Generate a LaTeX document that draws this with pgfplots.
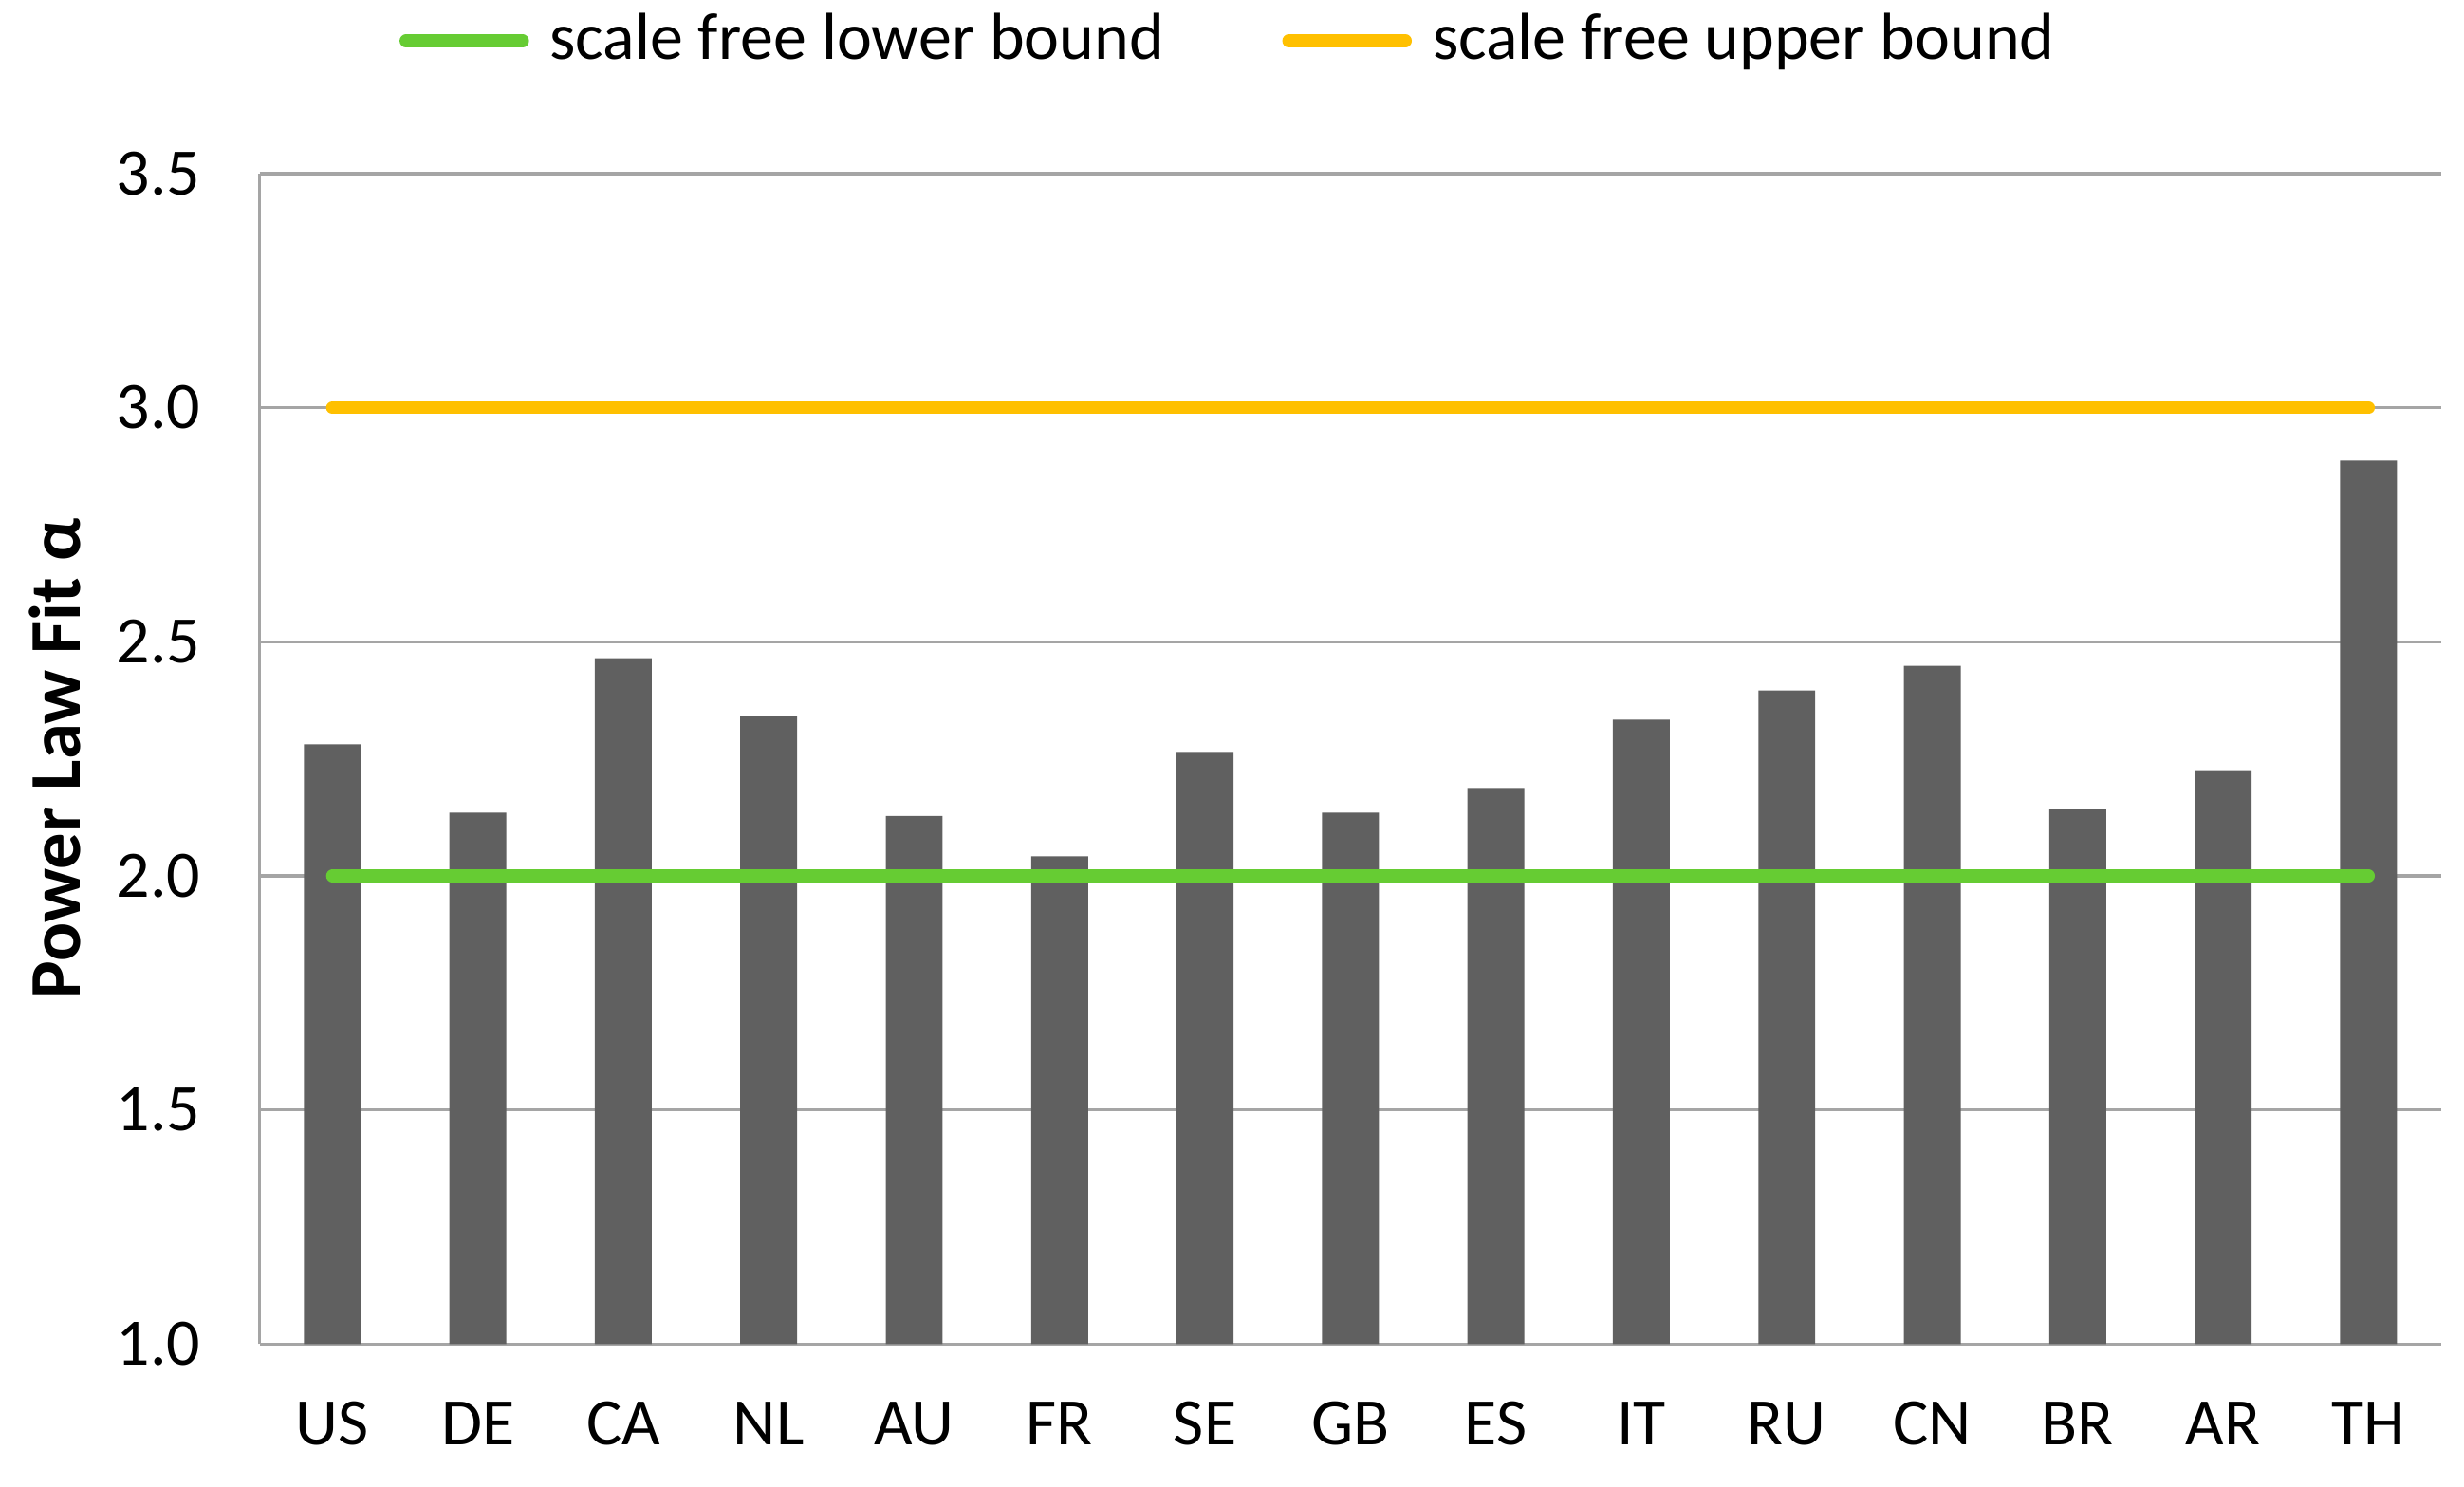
\documentclass[border=0pt]{standalone}
\usepackage{fontspec}
\setmainfont{Carlito}
\usepackage{pgfplots}
\pgfplotsset{compat=1.18}
\definecolor{gridc}{RGB}{165,165,165}
\definecolor{barc}{RGB}{96,96,96}
\definecolor{lowc}{RGB}{102,204,51}
\definecolor{upc}{RGB}{255,192,0}
\begin{document}
\begin{tikzpicture}
\path[use as bounding box] (-41.1pt,-22.6pt) rectangle (348.9pt,212.7pt);
\begin{axis}[
  scale only axis,
  width=345.3pt, height=185.2pt,
  xmin=-0.5, xmax=14.5,
  ymin=1, ymax=3.5,
  ytick={1,1.5,2,2.5,3,3.5},
  xtick={0,...,14},
  xticklabels={US,DE,CA,NL,AU,FR,SE,GB,ES,IT,RU,CN,BR,AR,TH},
  major tick length=0pt,
  ymajorgrids,
  grid style={gridc, line width=0.5pt},
  axis x line*=bottom,
  axis y line*=left,
  axis line style={gridc, line width=0.5pt, -},
  /pgf/number format/assume math mode=true,
  /pgf/number format/fixed, /pgf/number format/fixed zerofill, /pgf/number format/precision=1,
  yticklabel style={font=\fontsize{10.5}{12}\selectfont, anchor=base east, inner sep=0pt, xshift=-9.2pt, yshift=-3.3pt},
  xticklabel style={font=\fontsize{10.5}{12}\selectfont, anchor=base, inner sep=0pt, yshift=-15.9pt},
  ylabel={\textbf{Power Law Fit α}},
  ylabel style={font=\fontsize{11.5}{13}\selectfont, at={(axis description cs:-0.094,0.5)}, anchor=center},
  legend columns=2,
  legend cell align=left,
  legend style={draw=none, fill=none, at={(0.4452,1.1135)}, anchor=center,
    font=\fontsize{10.5}{12}\selectfont, inner sep=0pt,
    nodes={inner sep=1.2pt},
    /tikz/every even column/.append style={column sep=17.5pt}},
  legend image code/.code={\draw[#1, line cap=round] (0pt,0pt) -- (18.5pt,0pt); \path (20.6pt,0pt);},
]
\addplot[ybar, bar width=9pt, fill=barc, draw=none, forget plot] coordinates {
  (0,2.281) (1,2.135) (2,2.465) (3,2.342) (4,2.128) (5,2.042) (6,2.265) (7,2.135)
  (8,2.188) (9,2.334) (10,2.396) (11,2.449) (12,2.142) (13,2.226) (14,2.887)
};
\addplot[lowc, line width=2pt, line cap=round] coordinates {(0,2) (14,2)};
\addlegendentry{scale free lower bound}
\addplot[upc, line width=2pt, line cap=round] coordinates {(0,3) (14,3)};
\addlegendentry{scale free upper bound}
\end{axis}
\end{tikzpicture}
\end{document}
